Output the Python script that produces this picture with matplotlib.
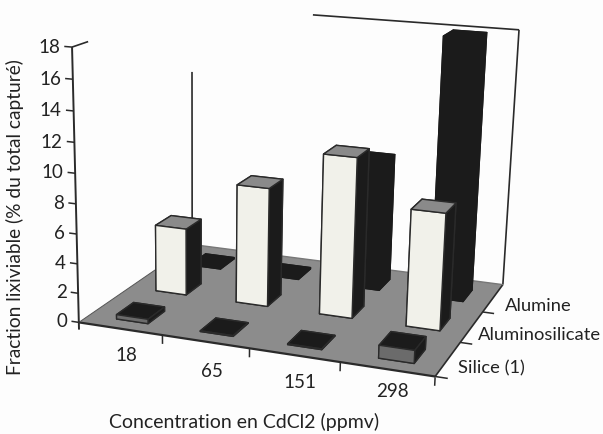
#!/usr/bin/env python3
import numpy as np
import matplotlib
matplotlib.use('Agg')
import matplotlib.pyplot as plt
from mpl_toolkits.mplot3d.art3d import Poly3DCollection

plt.rcParams['font.family'] = ['Lato', 'DejaVu Sans']

concentrations = ["18", "65", "151", "298"]
supports = ["Silice (1)", "Aluminosilicate", "Alumine"]
silice = [0.3, 0.05, 0.05, 0.85]
aluminosilicate = [4.7, 8.2, 10.9, 7.9]
alumine = [0.1, 0.1, 9.1, 18.0]
z_ticks = [0, 2, 4, 6, 8, 10, 12, 14, 16, 18]

C_FLOOR = "#8c8c8c"
C_DARK = "#1b1b1b"
C_EDGE = "#2a2a2a"
C_WHITE = "#f1f1ea"
C_TEXT = "#222222"

# camera: where some frame corners land on the page (x, y, z) -> (px, py)
frame_pts = [(0, 0, 0), (4, 0, 0), (4, 3, 0), (0, 3, 0), (0, 0, 18), (4, 3, 18), (0, 3, 18)]
frame_px = [(79, 323), (435, 378), (503, 285), (192, 246), (72, 48), (519, 31), (192, 7)]

W, H = 603, 435


def fit_camera(pts, px):
    rows = []
    for (x, y, z), (u, v) in zip(pts, px):
        v = H - v
        rows.append([x, y, z, 1, 0, 0, 0, 0, -u * x, -u * y, -u * z, -u])
        rows.append([0, 0, 0, 0, x, y, z, 1, -v * x, -v * y, -v * z, -v])
    P = np.linalg.svd(np.array(rows, float))[2][-1].reshape(3, 4)
    return P / (P[2] @ np.array([2, 1.5, 9, 1]))


P = fit_camera(frame_pts, frame_px)

fig = plt.figure(figsize=(W / 100, H / 100), dpi=100, facecolor="#fdfdfd")
ax = fig.add_axes([0, 0, 1, 1], projection="3d", computed_zorder=False)
ax.set_axis_off()
ax.patch.set_alpha(0)


def page_proj():
    # pixels -> the axes' own 2d coordinates, then depth as -1/w for sorting
    A = ax.transData.get_affine().inverted().get_matrix()
    M2 = A @ P
    return np.array([M2[0], M2[1], [0, 0, 0, -1], M2[2]])


ax.get_proj = page_proj


def label(x, y, z, s, dx=0, dy=0, **kw):
    # text stays flat on the page, anchored through the same camera
    u, v, w = P @ np.array([x, y, z, 1.0])
    fig.text((u / w + dx) / W, (v / w - dy) / H, s, color=C_TEXT, **kw)


def line(xs, ys, zs, lw=1.2, color=C_EDGE, zorder=2):
    ax.plot(xs, ys, zs, color=color, lw=lw, zorder=zorder, clip_on=False, solid_capstyle="butt")


# walls (only what the original shows)
line([0, 0], [3, 3], [0, 13.2], zorder=1)
line([4, 4], [3, 3], [0, 18], zorder=1)
line([4, 1.55], [3, 3], [18, 18], zorder=1)

# floor
floor = Poly3DCollection([[(0, 0, 0), (4, 0, 0), (4, 3, 0), (0, 3, 0)]], facecolors=C_FLOOR,
                         edgecolors="none", zorder=2)
floor.set_clip_on(False)
ax.add_collection3d(floor)
line([0, 4], [0, 0], [0, 0], lw=1.6, zorder=3)
line([4, 4], [0, 3], [0, 0], lw=1.2, zorder=3)
line([0, 0], [0, 3], [0, 0], lw=0.7, color="#555555", zorder=3)
line([0, 4], [3, 3], [0, 0], lw=1.0, color="#777777", zorder=3)

# axis lines and ticks
line([0, 0], [0, 0], [-0.5, 18], lw=1.4, zorder=3)
line([0, 0], [0, 0.35], [18, 18], lw=1.2, zorder=3)
for t in z_ticks:
    line([-0.09, 0], [0, 0], [t, t], lw=1.1, zorder=3)
    label(-0.14, 0, t, str(t), ha="right", va="center", fontsize=13.5)
for i, c in enumerate(concentrations):
    line([i + 1, i + 1], [0, 0], [-0.6, -0.05], lw=1.1, zorder=3)
    label(i + 0.57, 0, -1.7, c, dy=[0, 3, 0, -6][i], ha="center", va="center", fontsize=13.5)
for j, s in enumerate(supports):
    line([4, 4.13], [j, j], [0, 0], lw=1.1, zorder=3)
    label(4.08, j + 0.5, -0.45, s, dx=[3, -1, 5][j], ha="left", va="center", fontsize=13.2)

# bars, back row first.  face order of bar3d: bottom, top, front, back, left, right
DX, DY = 0.38, 0.42
rows = [
    (2, alumine, [C_DARK] * 6, C_DARK),
    (1, aluminosilicate, [C_DARK, "#8a8a8a", C_WHITE, C_DARK, C_DARK, C_DARK], C_EDGE),
    (0, silice, [C_DARK, C_DARK, "#6b6b6b", C_DARK, C_DARK, C_DARK], C_EDGE),
]
zo = 4
for j, vals, colors, edge in rows:
    for i, v in enumerate(vals):
        bar = ax.bar3d(i + 0.33, j + 0.25, 0, DX, DY, v, color=colors, shade=False,
                       edgecolor=edge, linewidth=1.0, zorder=zo)
        bar.set_clip_on(False)
        zo += 1

fig.text(244 / W, 1 - 422 / H, "Concentration en CdCl2 (ppmv)", ha="center", va="center",
         fontsize=14, color=C_TEXT)
fig.text(15 / W, 1 - 217 / H, "Fraction lixiviable (% du total capturé)", rotation=90,
         ha="center", va="center", fontsize=13.75, color=C_TEXT)

fig.savefig("out.png", dpi=100, facecolor=fig.get_facecolor())
